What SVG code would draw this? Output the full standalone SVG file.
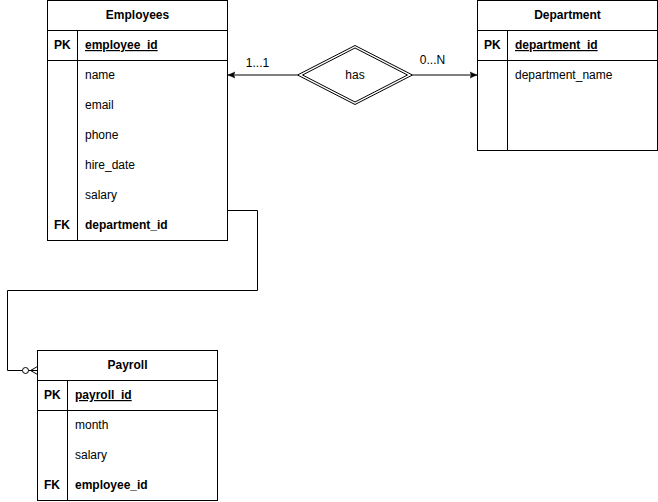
<svg xmlns="http://www.w3.org/2000/svg" width="658" height="502" viewBox="0 0 658 502">
  <style>
    .box { fill: #ffffff; stroke: #000000; stroke-width: 1; }
    .ln { fill: none; stroke: #000000; stroke-width: 1; }
    text { font-family: "Liberation Sans", Arial, sans-serif; font-size: 12px; fill: #000000; }
    .title { font-weight: bold; text-anchor: middle; }
    .key { font-weight: bold; }
    .pk { font-weight: bold; text-decoration: underline; }
    .mid { text-anchor: middle; }
  </style>
  <defs>
    <marker id="arrow" viewBox="0 0 10 10" refX="9" refY="5" markerWidth="8" markerHeight="8" markerUnits="userSpaceOnUse" orient="auto">
      <path d="M0,1 L9,5 L0,9 L2,5 Z" fill="#000000" stroke="#000000" stroke-width="0.5"/>
    </marker>
  </defs>

  <!-- Employees table -->
  <g id="employees">
    <rect class="box" x="47.5" y="0.5" width="180" height="240"/>
    <line class="ln" x1="47.5" y1="30.5" x2="227.5" y2="30.5"/>
    <line class="ln" x1="47.5" y1="60.5" x2="227.5" y2="60.5"/>
    <line class="ln" x1="77.5" y1="30.5" x2="77.5" y2="240.5"/>
    <text class="title" x="137.5" y="19">Employees</text>
    <text class="key" x="54" y="49">PK</text>
    <text class="pk" x="85" y="49">employee_id</text>
    <text x="85" y="79">name</text>
    <text x="85" y="109">email</text>
    <text x="85" y="139">phone</text>
    <text x="85" y="169">hire_date</text>
    <text x="85" y="199">salary</text>
    <text class="key" x="54" y="229">FK</text>
    <text class="key" x="85" y="229">department_id</text>
  </g>

  <!-- Department table -->
  <g id="department">
    <rect class="box" x="477.5" y="0.5" width="180" height="150"/>
    <line class="ln" x1="477.5" y1="30.5" x2="657.5" y2="30.5"/>
    <line class="ln" x1="477.5" y1="60.5" x2="657.5" y2="60.5"/>
    <line class="ln" x1="507.5" y1="30.5" x2="507.5" y2="150.5"/>
    <text class="title" x="567.5" y="19">Department</text>
    <text class="key" x="484" y="49">PK</text>
    <text class="pk" x="515" y="49">department_id</text>
    <text x="515" y="79">department_name</text>
  </g>

  <!-- Payroll table -->
  <g id="payroll">
    <rect class="box" x="37.5" y="350.5" width="180" height="150"/>
    <line class="ln" x1="37.5" y1="380.5" x2="217.5" y2="380.5"/>
    <line class="ln" x1="37.5" y1="410.5" x2="217.5" y2="410.5"/>
    <line class="ln" x1="67.5" y1="380.5" x2="67.5" y2="500.5"/>
    <text class="title" x="127.5" y="369">Payroll</text>
    <text class="key" x="44" y="399">PK</text>
    <text class="pk" x="75" y="399">payroll_id</text>
    <text x="75" y="429">month</text>
    <text x="75" y="459">salary</text>
    <text class="key" x="44" y="489">FK</text>
    <text class="key" x="75" y="489">employee_id</text>
  </g>

  <!-- Relationship "has" (double-outlined diamond) -->
  <g id="has">
    <polygon class="box" points="355,45.5 412.5,75 355,104.5 297.5,75"/>
    <polygon class="ln" points="355,48 407.5,75 355,102 302.5,75"/>
    <text class="mid" x="355" y="79">has</text>
  </g>

  <!-- Connectors -->
  <g id="connectors">
    <line class="ln" x1="297.5" y1="75" x2="228" y2="75" marker-end="url(#arrow)"/>
    <text class="mid" x="257.5" y="67">1...1</text>
    <line class="ln" x1="412.5" y1="75" x2="477" y2="75" marker-end="url(#arrow)"/>
    <text class="mid" x="432.5" y="64">0...N</text>

    <path class="ln" d="M227.5,210.5 H257.5 V290.5 H7.5 V370.5 H22.5"/>
    <circle class="ln" cx="25.5" cy="370.5" r="3" fill="#ffffff"/>
    <path class="ln" d="M28.5,370.5 H37.5 M30.5,370.5 L37.5,366.5 M30.5,370.5 L37.5,374.5"/>
  </g>
</svg>
